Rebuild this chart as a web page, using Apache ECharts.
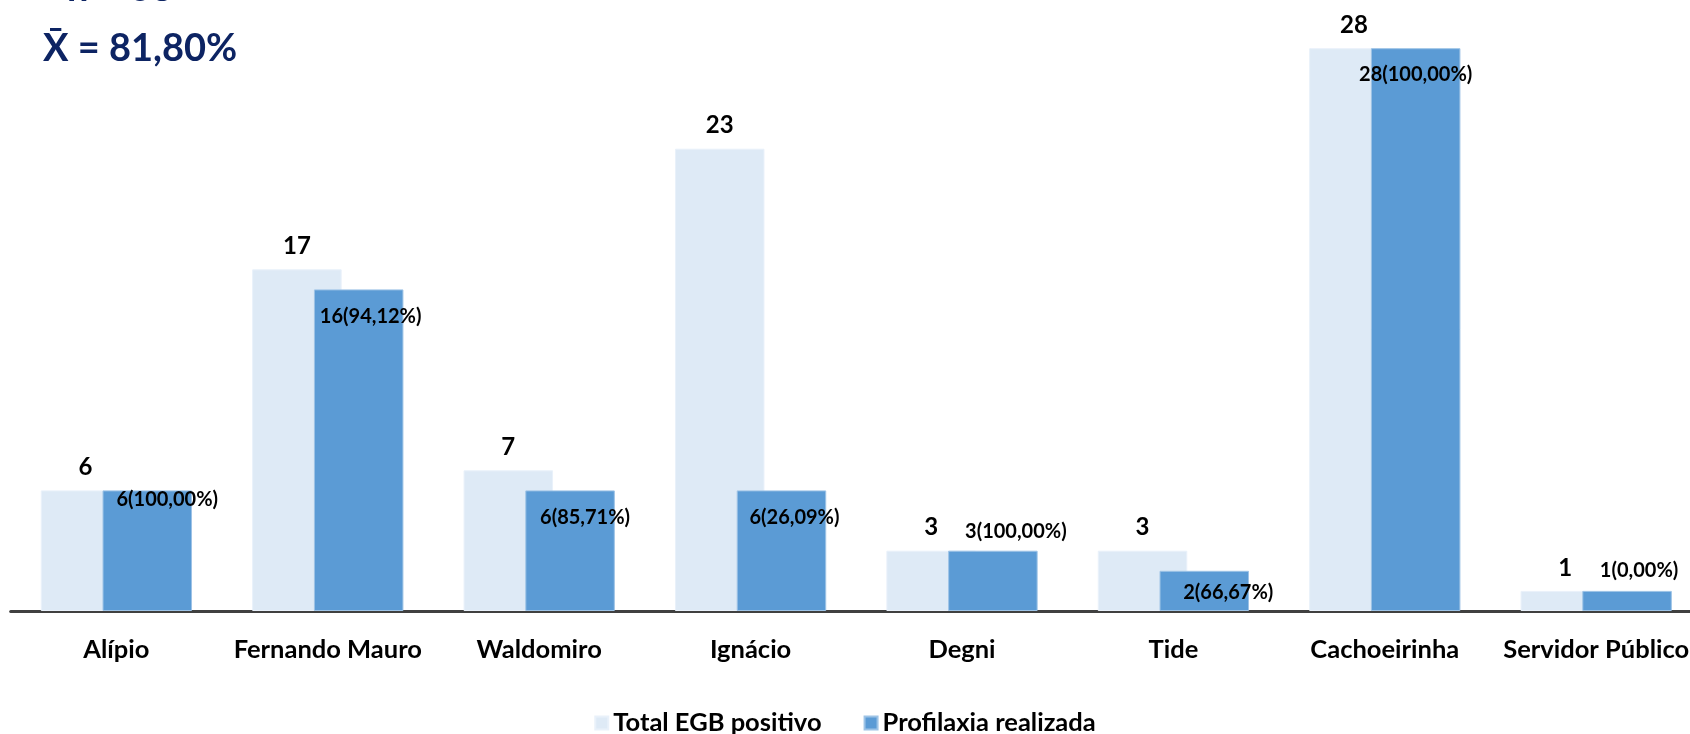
<!DOCTYPE html>
<html>
<head>
<meta charset="utf-8">
<script src="https://cdn.jsdelivr.net/npm/echarts@6/dist/echarts.min.js"></script>
<style>
html,body{margin:0;padding:0;background:#fff;}
#c{width:1690px;height:734px;}
</style>
</head>
<body>
<div id="c"></div>
<script>
const categories = ['Alípio', 'Fernando Mauro', 'Waldomiro', 'Ignácio', 'Degni', 'Tide', 'Cachoeirinha', 'Servidor Público'];
const totalEGB = [6, 17, 7, 23, 3, 3, 28, 1];
const profilaxia = [6, 16, 6, 6, 3, 2, 28, 1];
const percentLabels = ['100,00', '94,12', '85,71', '26,09', '100,00', '66,67', '100,00', '0,00'];
const seriesNames = ['Total EGB positivo', 'Profilaxia realizada'];
const titleN = 'n = 68';
const titleMean = 'X̄ = 81,80%';

// label offsets (style only) for the dark series, relative to bar top centre
const darkLabelOffsets = [[20, 9], [12, 27], [15, 27], [13, 27], [23, -19], [24, 22], [0, 26], [12, -20]];

const FONT = 'Lato, "Open Sans", sans-serif';
const chart = echarts.init(document.getElementById('c'));
chart.setOption({
  animation: false,
  backgroundColor: '#ffffff',
  grid: { left: 10.7, width: 1691.2, top: 8, bottom: 123, containLabel: false, outerBoundsMode: 'none' },
  graphic: [
    { type: 'text', left: 67, top: -30, style: { text: titleN, font: 'bold 38px ' + FONT, fill: '#0D2463' } },
    { type: 'text', left: 43, top: 30, style: { text: titleMean, font: 'bold 38px ' + FONT, fill: '#0D2463' } }
  ],
  legend: {
    top: 705,
    left: 'center',
    itemWidth: 13,
    itemHeight: 13,
    itemGap: 42,
    icon: 'rect',
    textStyle: { fontFamily: FONT, fontWeight: 'bold', fontSize: 25.5, color: '#000' },
    data: seriesNames
  },
  xAxis: {
    type: 'category',
    data: categories,
    axisTick: { show: false },
    axisLine: { lineStyle: { color: '#404040', width: 3 } },
    axisLabel: { margin: 26, fontFamily: FONT, fontWeight: 'bold', fontSize: 25.5, color: '#000', interval: 0 }
  },
  yAxis: { type: 'value', min: 0, max: 30, show: false, splitLine: { show: false } },
  series: [
    {
      name: seriesNames[0],
      type: 'bar',
      data: totalEGB,
      barWidth: 89.5,
      barGap: '-31%',
      itemStyle: { color: '#DEEAF6', borderColor: '#E9F1FA', borderWidth: 1 },
      label: {
        show: true, position: 'top', distance: 11,
        fontFamily: FONT, fontWeight: 'bold', fontSize: 24, color: '#000'
      }
    },
    {
      name: seriesNames[1],
      type: 'bar',
      data: profilaxia.map((v, i) => ({ value: v, label: { offset: darkLabelOffsets[i] } })),
      barWidth: 89.5,
      barGap: '-31%',
      itemStyle: { color: '#5B9BD5', borderColor: '#9DC3E6', borderWidth: 1 },
      label: {
        show: true,
        position: ['50%', 0],
        align: 'center',
        verticalAlign: 'middle',
        fontFamily: FONT, fontWeight: 'bold', fontSize: 20, color: '#000',
        formatter: p => p.value + '(' + percentLabels[p.dataIndex] + '%)'
      }
    }
  ]
});
</script>
</body>
</html>
